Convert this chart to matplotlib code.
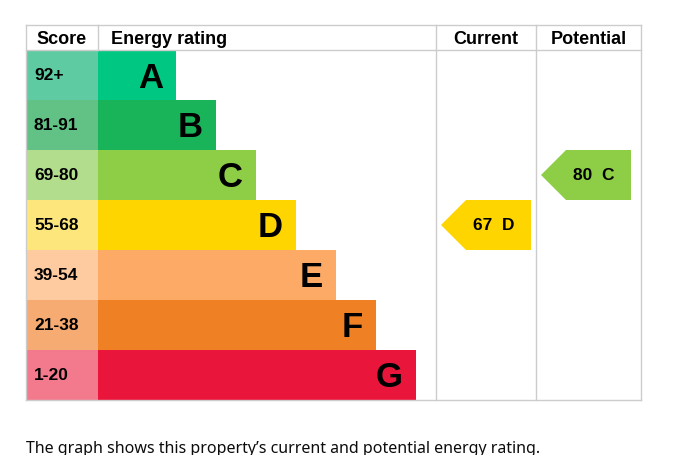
import matplotlib
matplotlib.use("Agg")
import matplotlib.pyplot as plt
from matplotlib.patches import Rectangle, Polygon

bands = ["A", "B", "C", "D", "E", "F", "G"]
scores = ["92+", "81-91", "69-80", "55-68", "39-54", "21-38", "1-20"]
lower = [92, 81, 69, 55, 39, 21, 1]
bar_colors = ["#00c781", "#19b459", "#8dce46", "#ffd500", "#fcaa65", "#ef8023", "#e9153b"]
score_colors = ["#5fcba2", "#62c286", "#b2dd8c", "#fde77c", "#fdcb9f", "#f5ab72", "#f37a8c"]
current_value = 67
potential_value = 80

def band_index(v):
    for i, lo in enumerate(lower):
        if v >= lo:
            return i
    return len(lower) - 1

fig = plt.figure(figsize=(6.9, 4.56), dpi=100)
ax = fig.add_axes([0, 0, 1, 1])
ax.set_xlim(0, 690)
ax.set_ylim(456, 0)
ax.axis("off")

F = "Liberation Sans"
L, SC, BE, CUR, R = 26, 98, 436, 536, 641
TOP, HEAD, ROW = 26, 51, 50
grid = "#cccccc"

ax.text(62, 39, "Score", ha="center", va="center", fontsize=13, fontweight="bold", family=F)
ax.text(111, 39, "Energy rating", ha="left", va="center", fontsize=13, fontweight="bold", family=F)
ax.text(486, 39, "Current", ha="center", va="center", fontsize=13, fontweight="bold", family=F)
ax.text(589, 39, "Potential", ha="center", va="center", fontsize=13, fontweight="bold", family=F)

bottom = HEAD + ROW * len(bands)
for x in [L, SC, BE, CUR, R]:
    ax.plot([x, x], [TOP, HEAD if x == SC else bottom], color=grid, lw=1)
ax.plot([L, R], [TOP, TOP], color=grid, lw=1)
ax.plot([L, R], [HEAD, HEAD], color=grid, lw=1)
ax.plot([L, R], [bottom, bottom], color=grid, lw=1)

for i, (b, s) in enumerate(zip(bands, scores)):
    y = HEAD + i * ROW
    ax.add_patch(Rectangle((L, y), SC - L, ROW, color=score_colors[i], lw=0))
    ax.text(34, y + ROW / 2, s, ha="left", va="center", fontsize=12.5, fontweight="bold", family=F)
    w = 78 + 40 * i
    ax.add_patch(Rectangle((SC, y), w, ROW, color=bar_colors[i], lw=0))
    ax.text(SC + w - 13, y + ROW / 2 + 2, b, ha="right", va="center", fontsize=25, fontweight="bold", family=F)

def arrow(x0, x1, v):
    i = band_index(v)
    y = HEAD + i * ROW
    pts = [(x0, y + ROW / 2), (x0 + 25, y), (x1, y), (x1, y + ROW), (x0 + 25, y + ROW)]
    ax.add_patch(Polygon(pts, closed=True, color=bar_colors[i], lw=0))
    ax.text((x0 + x1) / 2 + 8, y + ROW / 2, f"{v}  {bands[i]}", ha="center", va="center",
            fontsize=12.5, fontweight="bold", family=F)

arrow(441, 531, current_value)
arrow(541, 631, potential_value)

ax.text(26, 449, "The graph shows this property\u2019s current and potential energy rating.",
        ha="left", va="center", fontsize=11.5, family="Noto Sans", color="#0b0c0c")

fig.savefig("out.png", dpi=100)
